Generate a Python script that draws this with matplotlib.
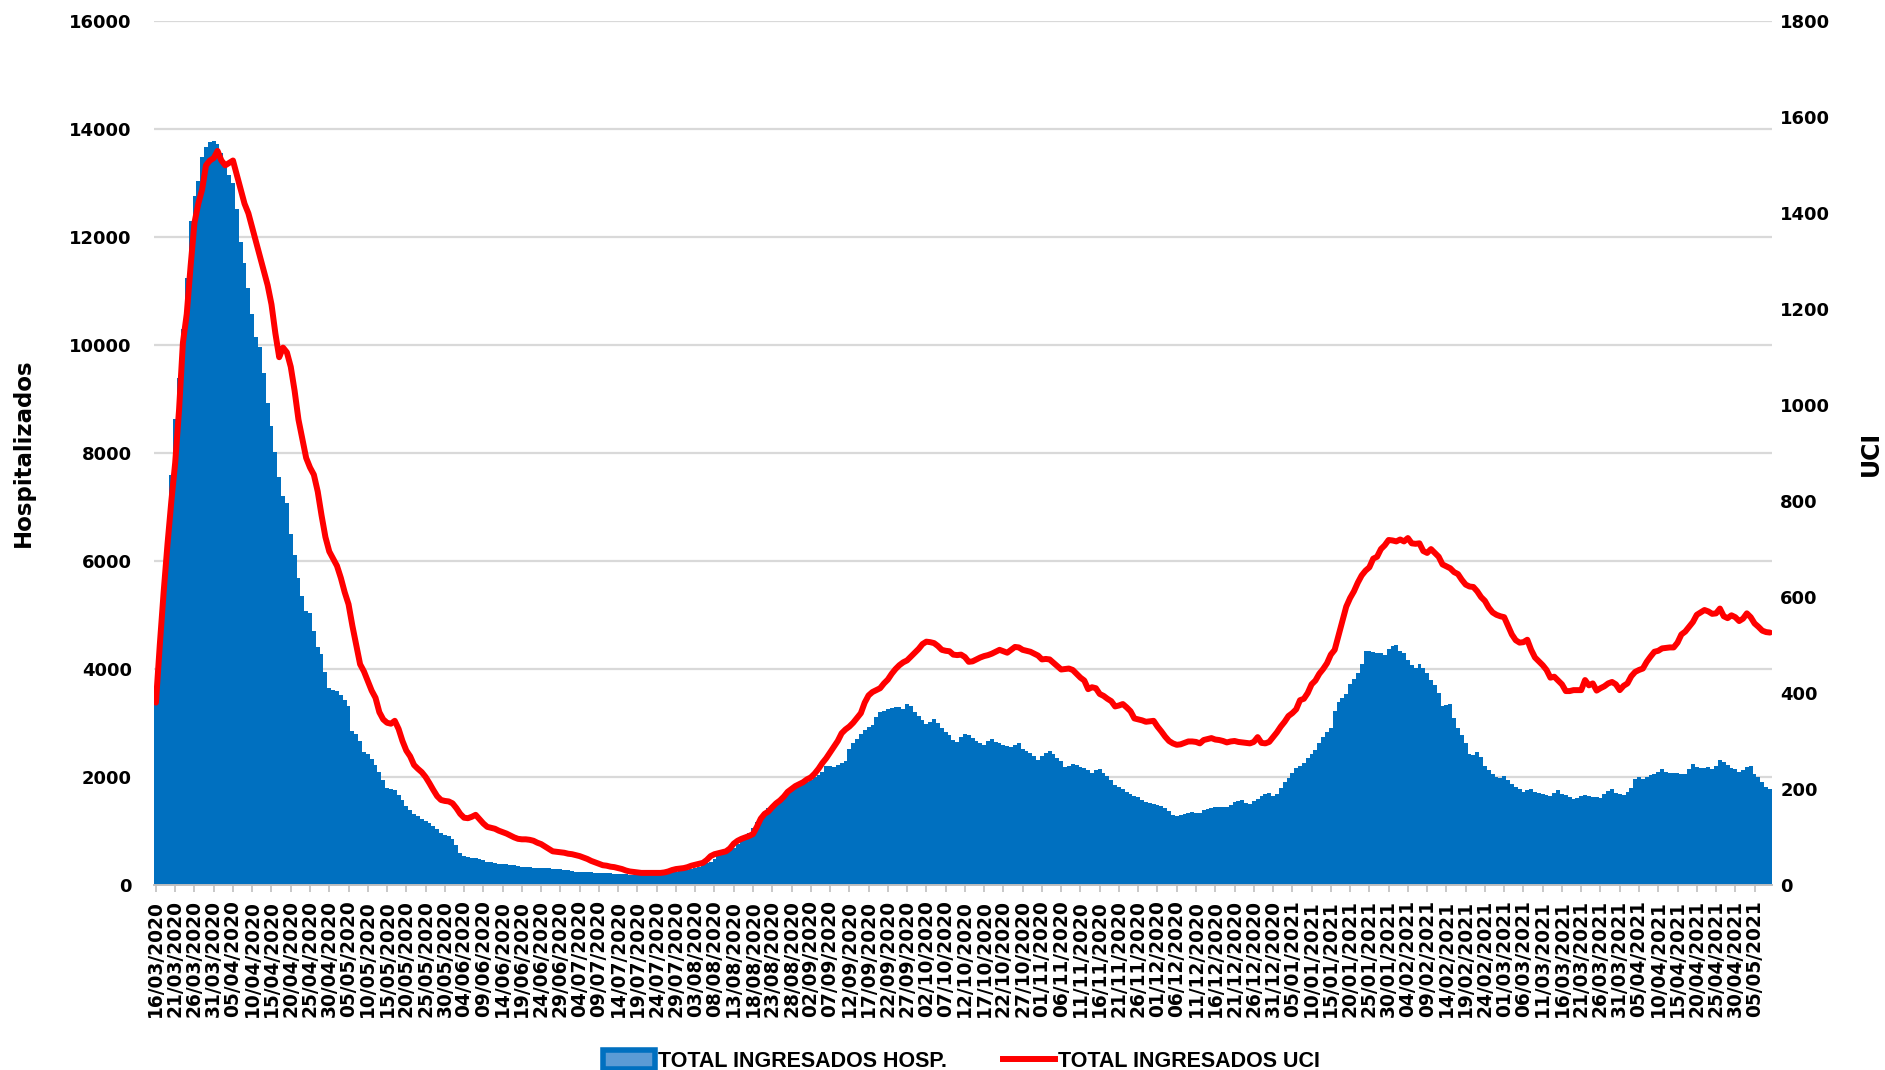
import matplotlib
matplotlib.use('Agg')
import matplotlib.pyplot as plt
import matplotlib.patches as mpatches
import matplotlib.lines as mlines
import numpy as np
import pandas as pd

# daily values (16/03/2020 -> 09/05/2021)
START_DATE = '2020-03-16'
LABEL_STEP = 5

hosp = [
    3370, 4300, 5400, 6500, 7590, 8640, 9400, 10300, 11250, 12310,
    12770, 13050, 13480, 13670, 13760, 13790, 13720, 13570, 13380, 13150,
    13000, 12530, 11910, 11530, 11060, 10580, 10160, 9970, 9490, 8920,
    8500, 8020, 7550, 7210, 7070, 6500, 6120, 5690, 5360, 5080,
    5030, 4700, 4410, 4270, 3940, 3650, 3610, 3600, 3510, 3420,
    3320, 2850, 2800, 2660, 2470, 2420, 2330, 2230, 2090, 1950,
    1800, 1775, 1755, 1660, 1565, 1460, 1390, 1320, 1270, 1230,
    1180, 1140, 1100, 1040, 970, 930, 910, 850, 730, 600,
    530, 515, 500, 490, 475, 455, 430, 415, 400, 385,
    380, 385, 375, 365, 345, 335, 330, 325, 320, 318,
    315, 312, 308, 300, 296, 290, 282, 272, 260, 248,
    240, 235, 232, 230, 228, 226, 222, 218, 214, 210,
    205, 201, 196, 190, 186, 182, 182, 182, 182, 184,
    190, 198, 206, 218, 232, 244, 256, 270, 285, 295,
    310, 335, 365, 400, 430, 475, 530, 565, 600, 640,
    690, 760, 830, 900, 970, 1060, 1160, 1250, 1330, 1420,
    1480, 1530, 1570, 1640, 1700, 1740, 1810, 1850, 1880, 1910,
    1950, 1990, 2030, 2100, 2200, 2210, 2190, 2230, 2260, 2300,
    2520, 2620, 2710, 2800, 2870, 2920, 2970, 3110, 3200, 3230,
    3250, 3270, 3300, 3290, 3260, 3360, 3320, 3200, 3130, 3060,
    2990, 3020, 3080, 3000, 2900, 2840, 2770, 2680, 2650, 2740,
    2800, 2770, 2720, 2670, 2620, 2590, 2660, 2710, 2650, 2630,
    2590, 2570, 2560, 2600, 2630, 2510, 2480, 2440, 2380, 2320,
    2380, 2440, 2480, 2420, 2360, 2290, 2190, 2210, 2240, 2220,
    2190, 2160, 2120, 2070, 2120, 2150, 2070, 2010, 1940, 1850,
    1810, 1780, 1730, 1690, 1640, 1620, 1580, 1540, 1520, 1500,
    1480, 1460, 1430, 1360, 1300, 1280, 1300, 1320, 1340, 1350,
    1330, 1340, 1380, 1400, 1420, 1440, 1450, 1440, 1450, 1480,
    1540, 1560, 1570, 1510, 1500, 1560, 1600, 1640, 1680, 1700,
    1640, 1680, 1790, 1900, 1980, 2070, 2160, 2210, 2260, 2350,
    2420, 2500, 2620, 2740, 2830, 2900, 3230, 3380, 3460, 3540,
    3720, 3820, 3920, 4100, 4340, 4330, 4310, 4300, 4290, 4260,
    4380, 4420, 4450, 4330, 4290, 4160, 4080, 4010, 4100, 4020,
    3920, 3800, 3700, 3560, 3310, 3330, 3350, 3100, 2900, 2780,
    2620, 2420, 2400, 2460, 2370, 2200, 2120, 2060, 2000, 1980,
    2010, 1940, 1870, 1820, 1780, 1720, 1760, 1770, 1730, 1710,
    1690, 1660, 1640, 1700, 1750, 1690, 1660, 1620, 1590, 1610,
    1650, 1660, 1640, 1630, 1630, 1610, 1680, 1740, 1770, 1700,
    1680, 1660, 1720, 1800, 1960, 1990, 1970, 1990, 2030, 2050,
    2100, 2140, 2100, 2080, 2080, 2070, 2060, 2050, 2150, 2240,
    2180, 2160, 2170, 2180, 2150, 2210, 2310, 2270, 2230, 2170,
    2140, 2100, 2130, 2180, 2200, 2050, 1990, 1900, 1810, 1780,
]

uci = [
    380, 500, 610, 710, 800, 880, 990, 1130, 1190, 1290,
    1380, 1420, 1450, 1500, 1510, 1515, 1530, 1510, 1500, 1505,
    1510, 1480, 1450, 1420, 1400, 1370, 1340, 1310, 1280, 1250,
    1210, 1150, 1100, 1120, 1110, 1080, 1030, 970, 930, 890,
    870, 855, 820, 770, 725, 695, 680, 665, 640, 610,
    585, 540, 500, 460, 445, 425, 405, 390, 360, 345,
    338, 336, 342, 325, 300, 280, 268, 250, 242, 235,
    225, 212, 198, 185, 177, 175, 174, 170, 160, 148,
    140, 139, 142, 146, 137, 128, 121, 119, 117, 113,
    110, 107, 103, 99, 96, 95, 95, 94, 92, 88,
    85, 80, 75, 70, 69, 68, 67, 65, 64, 62,
    60, 57, 54, 50, 47, 44, 41, 40, 38, 37,
    35, 33, 30, 28, 27, 26, 25, 25, 25, 25,
    25, 25, 26, 28, 31, 33, 34, 35, 37, 40,
    42, 44, 46, 52, 60, 64, 66, 68, 70, 76,
    86, 92, 96, 99, 102, 106, 121, 138, 148, 153,
    162, 170, 176, 184, 194, 200, 206, 210, 214, 220,
    224, 232, 242, 254, 264, 276, 288, 300, 316, 324,
    330, 338, 348, 358, 380, 395, 402, 406, 410, 420,
    428, 440, 450, 458, 464, 468, 476, 484, 492, 502,
    507, 506, 504, 498, 490, 488, 487, 480, 479, 480,
    475, 465, 466, 470, 474, 477, 479, 482, 486, 490,
    487, 484, 490, 496, 495, 490, 488, 486, 482, 478,
    470, 471, 470, 463, 456, 449, 450, 451, 448, 440,
    432, 426, 408, 412, 410, 398, 394, 388, 383, 372,
    374, 377, 370, 362, 347, 345, 343, 340, 341, 342,
    330, 320, 309, 300, 295, 292, 293, 296, 299, 299,
    298, 295, 302, 304, 306, 303, 302, 300, 297, 299,
    300, 298, 297, 296, 295, 298, 308, 296, 295, 298,
    308, 318, 330, 340, 352, 358, 366, 385, 388, 400,
    418, 426, 440, 450, 462, 480, 490, 520, 550, 580,
    598, 612, 630, 645, 655, 662, 680, 684, 700, 708,
    719, 718, 716, 720, 716, 723, 712, 711, 712, 696,
    692, 700, 692, 684, 668, 664, 660, 652, 648, 636,
    626, 622, 621, 612, 600, 592, 578, 568, 563, 560,
    558, 540, 522, 510, 505, 506, 511, 490, 474, 466,
    458, 448, 432, 434, 426, 418, 404, 404, 406, 406,
    406, 427, 416, 420, 405, 410, 414, 420, 423, 418,
    406, 415, 420, 435, 444, 448, 451, 465, 476, 486,
    488, 493, 494, 495, 495, 505, 522, 528, 538, 548,
    563, 568, 573, 570, 565, 566, 576, 560, 556, 562,
    558, 550, 555, 566, 558, 545, 538, 530, 527, 526,
]

BLUE = '#0070C0'
RED = '#FF0000'
GRID = '#D9D9D9'

plt.rcParams['font.family'] = 'DejaVu Sans'
plt.rcParams['font.weight'] = 'bold'

dates = pd.date_range(START_DATE, periods=len(hosp), freq='D')
x = np.arange(len(hosp))

fig = plt.figure(figsize=(18.85, 10.70), dpi=100)
ax = fig.add_axes([0.0817, 0.173, 0.8583, 0.807])
ax2 = ax.twinx()

# hospitalised: columns with no gap -> stairs
ax.stairs(hosp, np.arange(len(hosp) + 1) - 0.5, fill=True, color=BLUE, linewidth=0)
ax.set_xlim(-0.5, len(hosp) - 0.5)
ax.set_ylim(0, 16000)
ax.set_yticks(np.arange(0, 16001, 2000))
ax.grid(axis='y', color=GRID, linewidth=1.6)
ax.set_axisbelow(True)

tick_pos = x[::LABEL_STEP]
ax.set_xticks(tick_pos)
ax.set_xticklabels(dates[::LABEL_STEP].strftime('%d/%m/%Y'), rotation=90, fontsize=13.4, fontweight='bold')
ax.tick_params(axis='x', length=5, width=1.2, color='#BFBFBF', pad=6)
ax.tick_params(axis='y', length=0, labelsize=13, pad=16)
for lab in ax.get_yticklabels():
    lab.set_fontweight('bold')

ax.set_ylabel('Hospitalizados', fontsize=16.5, fontweight='bold', ha='center', va='center')
ax.yaxis.set_label_coords(-0.081, 0.5)

# ICU on the secondary axis
ax2.plot(x, uci, color=RED, linewidth=4.3, solid_joinstyle='round', solid_capstyle='round')
ax2.set_ylim(0, 1800)
ax2.set_yticks(np.arange(0, 1801, 200))
ax2.tick_params(axis='y', length=0, labelsize=13, pad=6)
for lab in ax2.get_yticklabels():
    lab.set_fontweight('bold')
ax2.set_ylabel('UCI', fontsize=17, fontweight='bold', rotation=90, ha='center', va='center')
ax2.yaxis.set_label_coords(1.0611, 0.5)

for a in (ax, ax2):
    for side in ('top', 'left', 'right'):
        a.spines[side].set_visible(False)
    a.spines['bottom'].set_color('#BFBFBF')
    a.spines['bottom'].set_linewidth(1.2)

# legend at the bottom
h_patch = mpatches.Patch(facecolor='#5B9BD5', edgecolor=BLUE, linewidth=4)
h_line = mlines.Line2D([], [], color=RED, linewidth=4.3)
fig.legend([h_patch, h_line], ['TOTAL INGRESADOS HOSP.', 'TOTAL INGRESADOS UCI'],
           loc='lower center', bbox_to_anchor=(0.51, -0.02), ncol=2, frameon=False,
           prop={'family': 'Liberation Sans', 'weight': 'bold', 'size': 15.5},
           handlelength=2.4, handleheight=1.0, handletextpad=0.15, columnspacing=2.6)

fig.savefig('out.png', dpi=100)
plt.close()
